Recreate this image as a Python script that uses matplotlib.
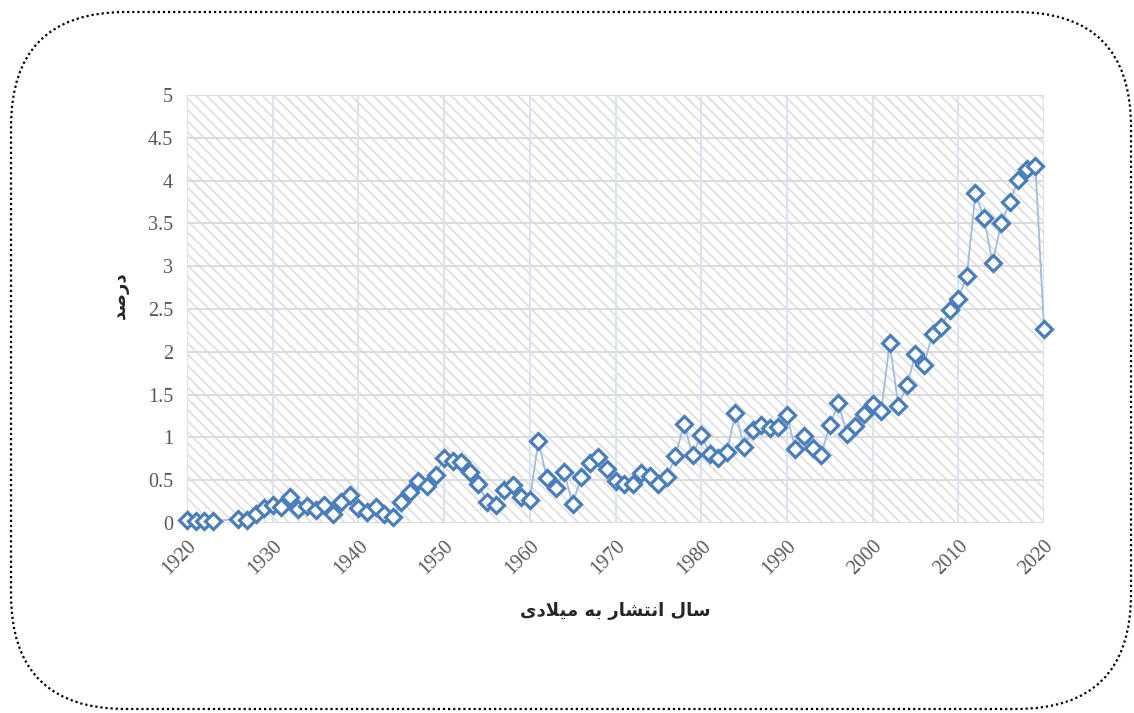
import matplotlib
matplotlib.use('Agg')
import matplotlib.pyplot as plt
from matplotlib.patches import Rectangle, FancyBboxPatch
from matplotlib.transforms import IdentityTransform

years = [1920, 1921, 1922, 1923, 1926, 1927, 1928, 1929,
         1930, 1931, 1932, 1933, 1934, 1935, 1936, 1937, 1938, 1939,
         1940, 1941, 1942, 1943, 1944, 1945, 1946, 1947, 1948, 1949,
         1950, 1951, 1952, 1953, 1954, 1955, 1956, 1957, 1958, 1959,
         1960, 1961, 1962, 1963, 1964, 1965, 1966, 1967, 1968, 1969,
         1970, 1971, 1972, 1973, 1974, 1975, 1976, 1977, 1978, 1979,
         1980, 1981, 1982, 1983, 1984, 1985, 1986, 1987, 1988, 1989,
         1990, 1991, 1992, 1993, 1994, 1995, 1996, 1997, 1998, 1999,
         2000, 2001, 2002, 2003, 2004, 2005, 2006, 2007, 2008, 2009,
         2010, 2011, 2012, 2013, 2014, 2015, 2016, 2017, 2018, 2019,
         2020]
percent = [0.03, 0.02, 0.02, 0.02, 0.05, 0.03, 0.10, 0.17,
           0.21, 0.19, 0.30, 0.16, 0.20, 0.15, 0.21, 0.11, 0.24, 0.33,
           0.18, 0.13, 0.19, 0.10, 0.07, 0.24, 0.36, 0.49, 0.43, 0.56,
           0.76, 0.72, 0.71, 0.60, 0.45, 0.25, 0.21, 0.38, 0.44, 0.30,
           0.27, 0.96, 0.52, 0.41, 0.60, 0.22, 0.54, 0.70, 0.77, 0.63,
           0.49, 0.45, 0.46, 0.58, 0.55, 0.46, 0.54, 0.78, 1.16, 0.79,
           1.03, 0.81, 0.76, 0.83, 1.29, 0.89, 1.09, 1.15, 1.11, 1.12,
           1.26, 0.86, 1.02, 0.88, 0.80, 1.14, 1.40, 1.04, 1.13, 1.27,
           1.39, 1.31, 2.10, 1.37, 1.61, 1.97, 1.85, 2.21, 2.29, 2.49,
           2.62, 2.89, 3.85, 3.56, 3.04, 3.50, 3.75, 4.01, 4.14, 4.17,
           2.27]
xticks = list(range(1920, 2021, 10))
yticks = [0, 0.5, 1, 1.5, 2, 2.5, 3, 3.5, 4, 4.5, 5]
ytick_labels = ['0', '0.5', '1', '1.5', '2', '2.5', '3', '3.5', '4', '4.5', '5']

# Persian labels written as presentation forms in visual order
# (matplotlib does no shaping / bidi)
ylabel = '\uFEAA\uFEBB\uFEAD\uFEA9'  # درصد
xlabel = ('\uFBFC\uFEA9\uFEFC\uFBFF\uFEE3 \uFEEA\uFE91 '
          '\uFEAD\uFE8E\uFEB8\uFE98\uFEE7\uFE8D \uFEDD\uFE8E\uFEB3')  # سال انتشار به میلادی

plt.rcParams['hatch.linewidth'] = 1.3

fig = plt.figure(figsize=(11.34, 7.13), dpi=100)
ax = fig.add_axes([187 / 1134, 1 - 523 / 713, 857 / 1134, 428 / 713])

# diagonal hatched plot area
ax.add_patch(Rectangle((0, 0), 1, 1, transform=ax.transAxes, facecolor='white',
                       edgecolor='#e0e0e0', lw=0, hatch='\\\\\\', zorder=0))

for y in yticks:
    ax.axhline(y, color='#d9d9d9', lw=1.3, zorder=1)
for x in xticks:
    ax.axvline(x, color='#dae3f0', lw=1.5, zorder=1)

ax.plot(years, percent, color='#a4bbdc', lw=1.3, zorder=2, clip_on=False)
ax.plot(years, percent, ls='none', marker='D', ms=8.5, mfc='white',
        mec='#4a7ebb', mew=2.3, zorder=3, clip_on=False)

ax.set_xlim(1920, 2020)
ax.set_ylim(0, 5)
ax.set_xticks(xticks)
ax.set_yticks(yticks)
ax.set_yticklabels(ytick_labels)
for s in ax.spines.values():
    s.set_visible(False)
ax.tick_params(length=0, labelsize=14.5, labelcolor='#595959', pad=10)
for lab in ax.get_xticklabels() + ax.get_yticklabels():
    lab.set_family('Liberation Serif')
for lab in ax.get_xticklabels():
    lab.set_rotation(45)
    lab.set_ha('right')
    lab.set_va('top')
    lab.set_rotation_mode('anchor')

fig.text(120 / 1134, 1 - 295 / 713, ylabel, rotation=90, ha='center', va='center',
         fontsize=13, fontweight='bold', color='#262626', family='DejaVu Sans')
fig.text(615 / 1134, 1 - 611 / 713, xlabel, ha='center', va='center',
         fontsize=13, fontweight='bold', color='#262626', family='DejaVu Sans')

border = FancyBboxPatch((11, 4), 1120, 697, boxstyle='round,pad=0,rounding_size=115',
                        transform=IdentityTransform(), facecolor='none',
                        edgecolor='black', lw=1.6, ls=(0, (1, 1.3)))
fig.patches.append(border)

fig.savefig('out.png', dpi=100)
